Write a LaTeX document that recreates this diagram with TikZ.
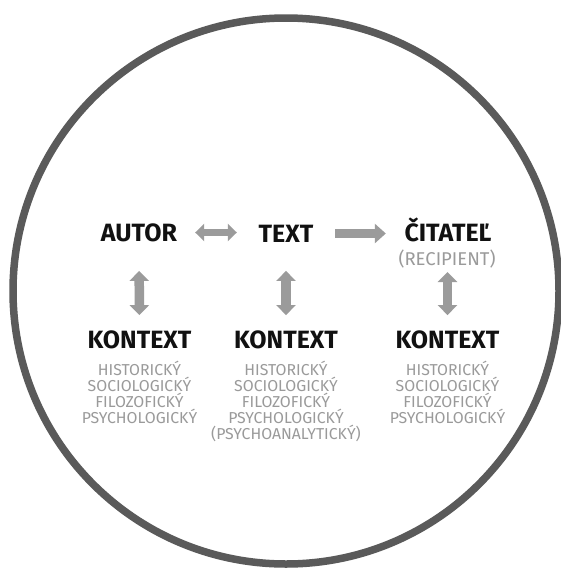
\documentclass[tikz,border=0pt]{standalone}
\usepackage{fontspec}
\setmainfont{Fira Sans}
\usetikzlibrary{arrows.meta}
\definecolor{ringgray}{HTML}{5A5A5A}
\definecolor{arrowgray}{HTML}{9B9B9B}
\definecolor{subgray}{HTML}{9A9A9A}
\definecolor{ink}{HTML}{111111}
\begin{document}
\begin{tikzpicture}[x=1pt,y=-1pt,
  head/.style={font=\fontsize{25}{25}\selectfont\bfseries, text=ink, inner sep=0pt,
    text height=17.4pt, text depth=0pt},
  recipstyle/.style={font=\fontsize{18.5}{18.5}\selectfont, text=subgray, inner sep=0pt,
    text height=12.7pt, text depth=0pt},
  sub/.style={font=\fontsize{15.8}{15.8}\selectfont, text=subgray, inner sep=0pt, anchor=base},
  dbl/.style={draw=arrowgray, line width=6.5pt, {Triangle[length=9pt,width=17pt]}-{Triangle[length=9pt,width=17pt]}},
  one/.style={draw=arrowgray, line width=9pt, -{Triangle[length=11pt,width=19pt]}},
  vdbl/.style={draw=arrowgray, line width=9.5pt, {Triangle[length=10pt,width=19pt]}-{Triangle[length=10pt,width=19pt]}}
]
\useasboundingbox (0,0) rectangle (561,568);
\fill[white] (0,0) rectangle (561,568);
\draw[ringgray, line width=7.5pt] (286,291) circle[radius=273];

\node[head, minimum width=78pt] (autor) at (139,232.5) {AUTOR};
\node[head, minimum width=56pt] (textn) at (286,233.5) {TEXT};
\node[head, minimum width=90pt] (citatel) at (448,232.5) {ČITATEĽ};
\node[recipstyle] (recip) at (447,259.5) {(RECIPIENT)};

\node[head] (k1) at (139.5,339.5) {KONTEXT};
\node[head] (k2) at (286,339.5) {KONTEXT};
\node[head] (k3) at (447.5,339.5) {KONTEXT};

\node[sub] (h1) at (139.5,375) {HISTORICKÝ};
\node[sub] (s1) at (139.5,391.5) {SOCIOLOGICKÝ};
\node[sub] (f1) at (139.5,407.5) {FILOZOFICKÝ};
\node[sub] (p1) at (139.5,423.5) {PSYCHOLOGICKÝ};

\node[sub] (h2) at (286,375) {HISTORICKÝ};
\node[sub] (s2) at (286,391.5) {SOCIOLOGICKÝ};
\node[sub] (f2) at (286,407.5) {FILOZOFICKÝ};
\node[sub] (p2) at (286,423.5) {PSYCHOLOGICKÝ};
\node[sub] (a2) at (286,439.5) {(PSYCHOANALYTICKÝ)};

\node[sub] (h3) at (447.5,375) {HISTORICKÝ};
\node[sub] (s3) at (447.5,391.5) {SOCIOLOGICKÝ};
\node[sub] (f3) at (447.5,407.5) {FILOZOFICKÝ};
\node[sub] (p3) at (447.5,423.5) {PSYCHOLOGICKÝ};

\draw[dbl, shorten <=17pt, shorten >=21pt] (autor.east) -- (textn.west |- autor.east);
\draw[one, shorten <=21pt, shorten >=17pt] (textn.east) -- (citatel.west |- textn.east);
\draw[vdbl, shorten <=29.5pt, shorten >=15.5pt] (autor.south) -- (k1.north);
\draw[vdbl, shorten <=28.5pt, shorten >=15.5pt] (textn.south) -- (k2.north);
\draw[vdbl, shorten <=6pt, shorten >=15.5pt] (recip.south -| k3.north) -- (k3.north);
\end{tikzpicture}
\end{document}
